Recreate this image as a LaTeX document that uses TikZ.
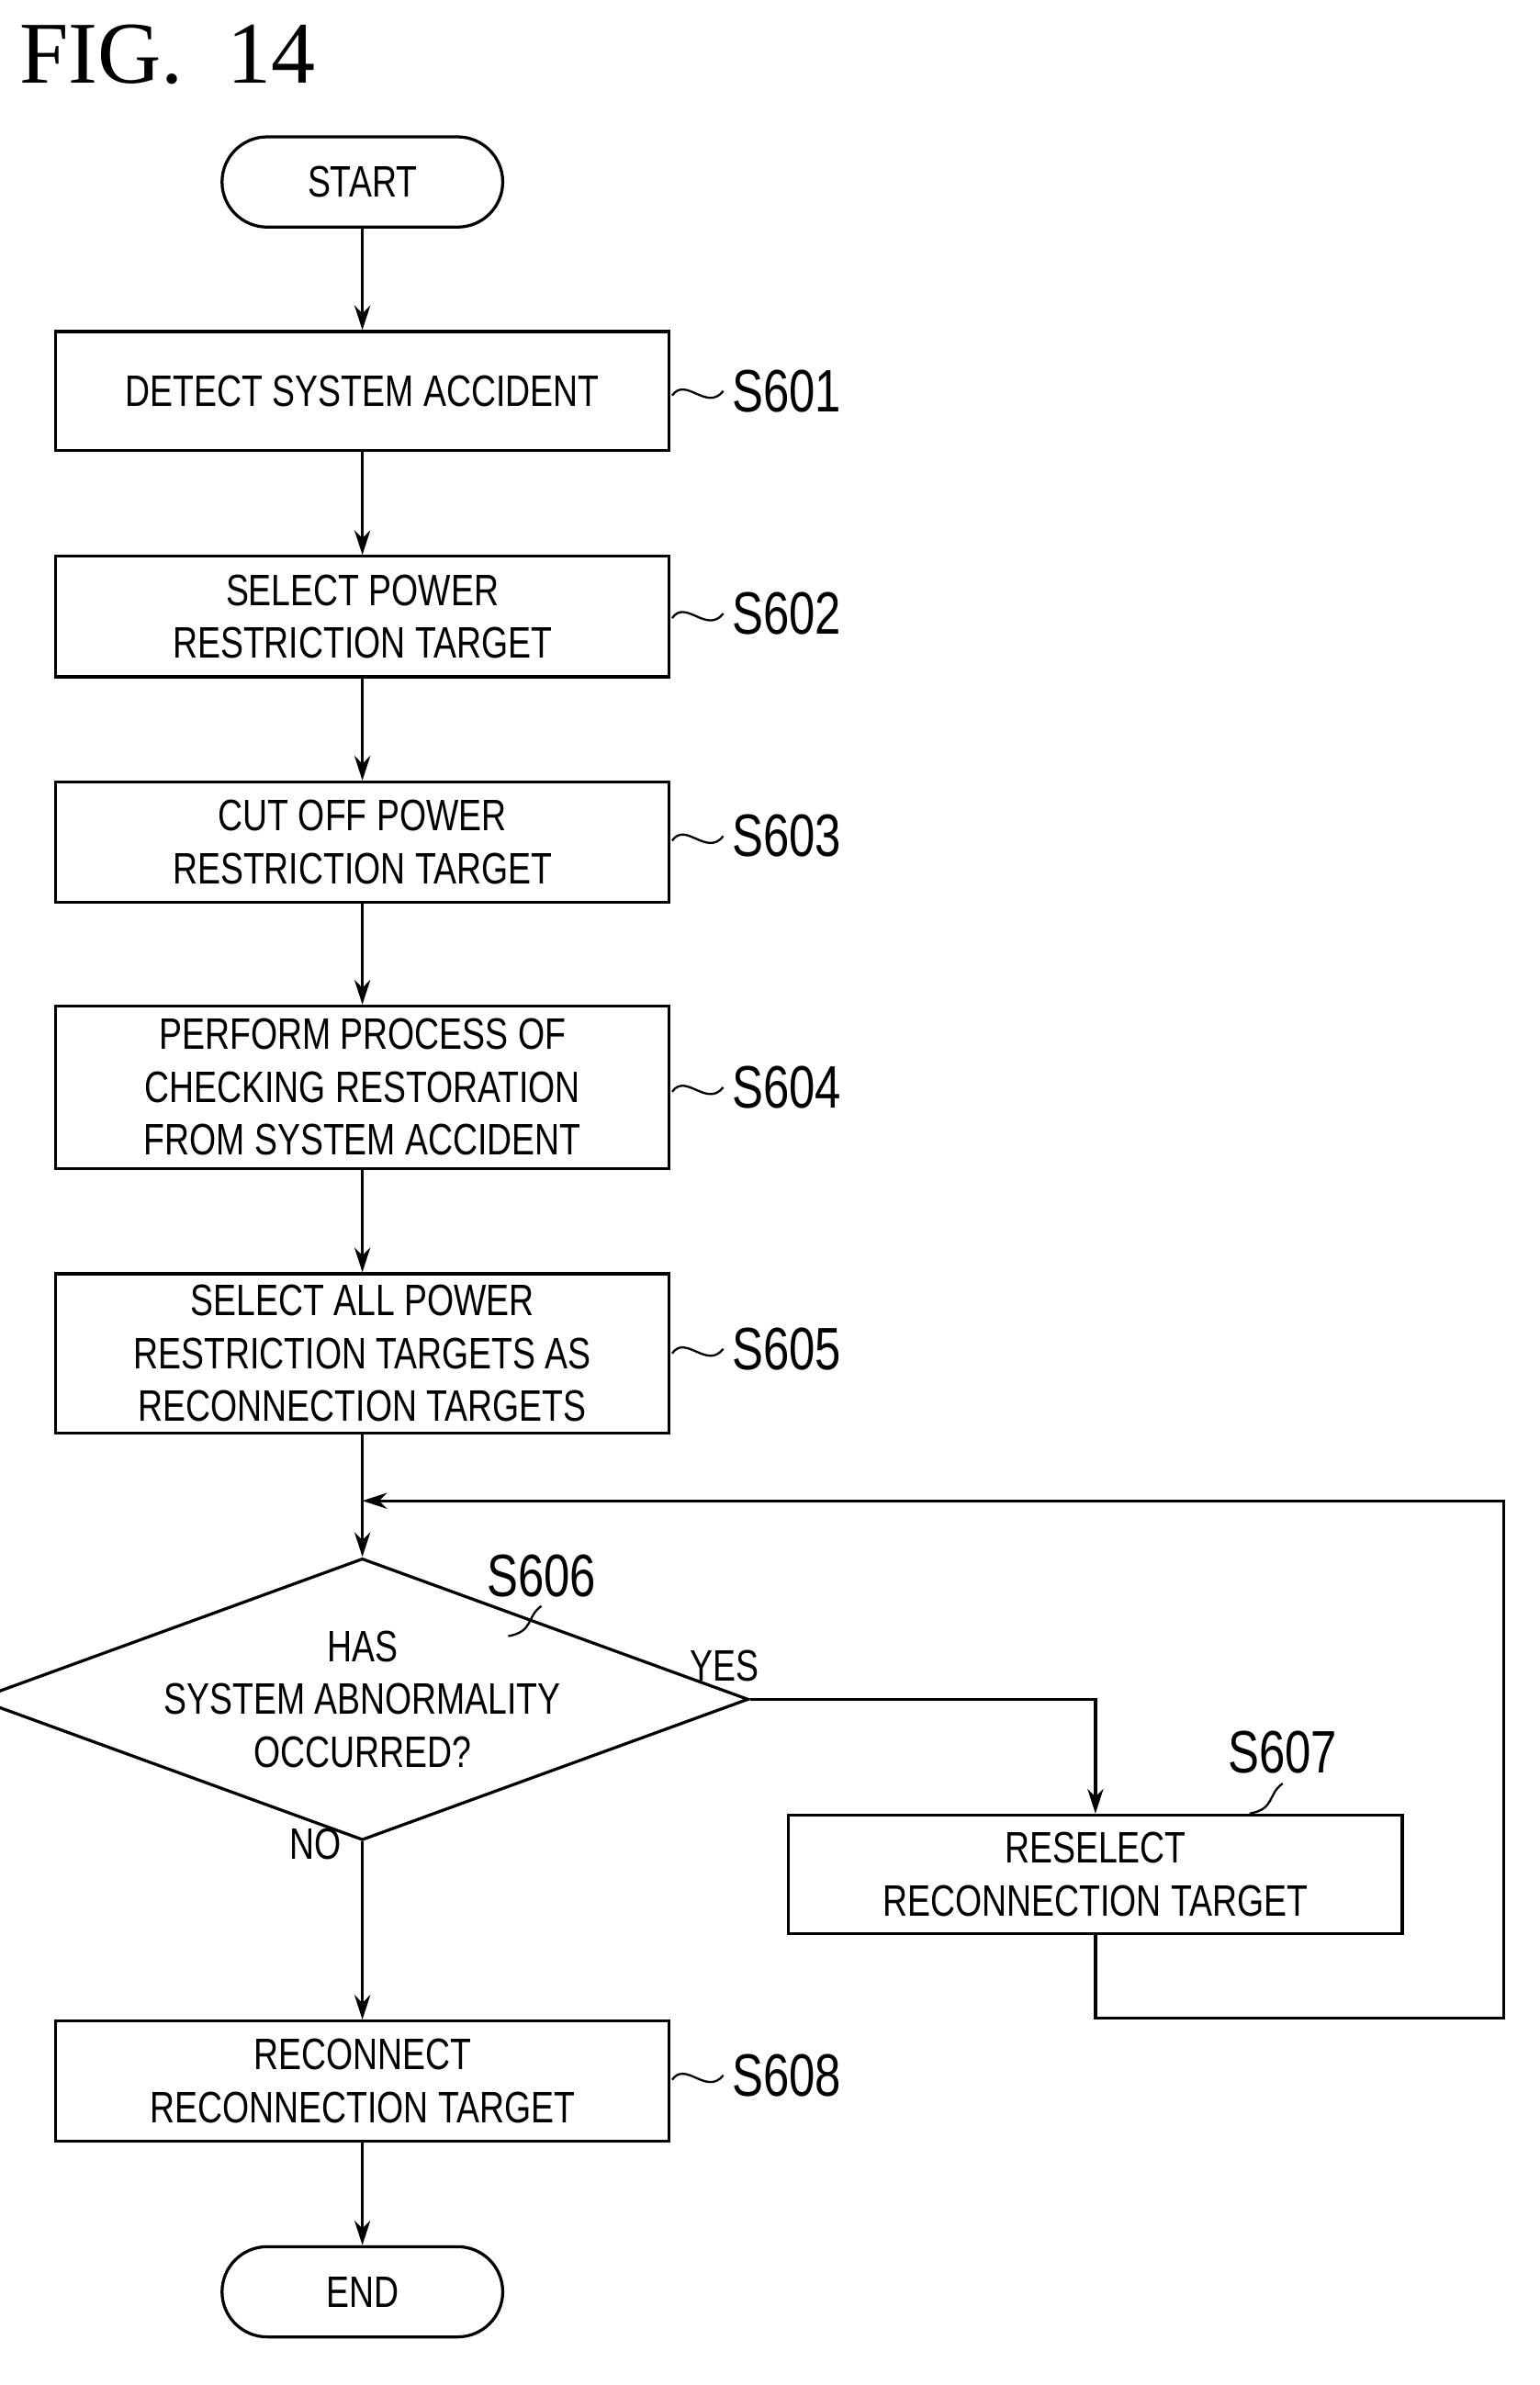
\documentclass[tikz,border=0pt]{standalone}
\usepackage{fontspec}
\usetikzlibrary{shapes.geometric,arrows.meta}
\newfontfamily\cf{Liberation Sans}[FakeStretch=0.78]
\newfontfamily\tf{Liberation Serif}
\begin{document}
\begin{tikzpicture}[x=0.03cm,y=-0.03cm,
 line width=1.7pt,
 box/.style={draw,rectangle,minimum width=12.24cm,inner sep=0pt,align=center,font=\cf\fontsize{25}{30}\selectfont},
 term/.style={draw,rectangle,rounded corners=0.9cm,minimum width=5.6cm,minimum height=1.8cm,font=\cf\fontsize{25}{30}\selectfont},
 lab/.style={font=\cf\fontsize{34}{36}\selectfont},
 arr/.style={-{Stealth[length=14pt,width=9pt]}}]
\useasboundingbox (0,0) rectangle (1024,1586);
\node[font=\tf\fontsize{50}{50}\selectfont,anchor=west] (title) at (8,36) {FIG.\ \ 14};
\node[term] (start) at (241,121) {START};
\node[box,minimum height=2.37cm] (s1) at (241,260) {DETECT SYSTEM ACCIDENT};
\node[box,minimum height=2.4cm] (s2) at (241,410) {SELECT POWER\\RESTRICTION TARGET};
\node[box,minimum height=2.4cm] (s3) at (241,560) {CUT OFF POWER\\RESTRICTION TARGET};
\node[box,minimum height=3.24cm] (s4) at (241,723) {PERFORM PROCESS OF\\CHECKING RESTORATION\\FROM SYSTEM ACCIDENT};
\node[box,minimum height=3.18cm] (s5) at (241,900) {SELECT ALL POWER\\RESTRICTION TARGETS AS\\RECONNECTION TARGETS};
\node[draw,diamond,aspect=2.74,minimum width=12.24cm,inner sep=0pt,align=center,font=\cf\fontsize{25}{30}\selectfont] (d) at (241,1130) {HAS\\SYSTEM ABNORMALITY\\OCCURRED?};
\node[box,minimum height=2.37cm] (s7) at (728.5,1246.5) {RESELECT\\RECONNECTION TARGET};
\node[box,minimum height=2.4cm] (s8) at (241,1384) {RECONNECT\\RECONNECTION TARGET};
\node[term] (end) at (241,1524) {END};
\coordinate (j) at (241,998);
\draw[arr] (start) -- (s1);
\draw[arr] (s1) -- (s2);
\draw[arr] (s2) -- (s3);
\draw[arr] (s3) -- (s4);
\draw[arr] (s4) -- (s5);
\draw[arr] (s5) -- (d);
\draw[arr] (d.east) -| (s7.north);
\draw[arr] (s7.south) |- (1000,1342) -- (1000,998) -- (j);
\draw[arr] (d.south) -- (s8);
\draw[arr] (s8) -- (end);
\node[font=\cf\fontsize{25}{30}\selectfont] (yes) at (482,1108) {YES};
\node[font=\cf\fontsize{25}{30}\selectfont] (no) at (210,1226) {NO};
\foreach \n/\y/\t in {s1/260/S601,s2/408/S602,s3/556/S603,s4/723/S604,s5/897/S605,s8/1380/S608}{
 \node[lab,anchor=west] (l\n) at (482,\y) {\t};
 \draw[line width=1.2pt] (447,\y+3) .. controls (456,\y-10) and (470,\y+14) .. (481,\y);
}
\node[lab] (l6) at (360,1048) {S606};
\draw[line width=1.2pt] (338,1088) .. controls (355,1085) and (350,1075) .. (360,1068);
\node[lab] (l7) at (853,1165) {S607};
\draw[line width=1.2pt] (831,1206) .. controls (848,1203) and (843,1193) .. (853,1186);
\end{tikzpicture}
\end{document}
